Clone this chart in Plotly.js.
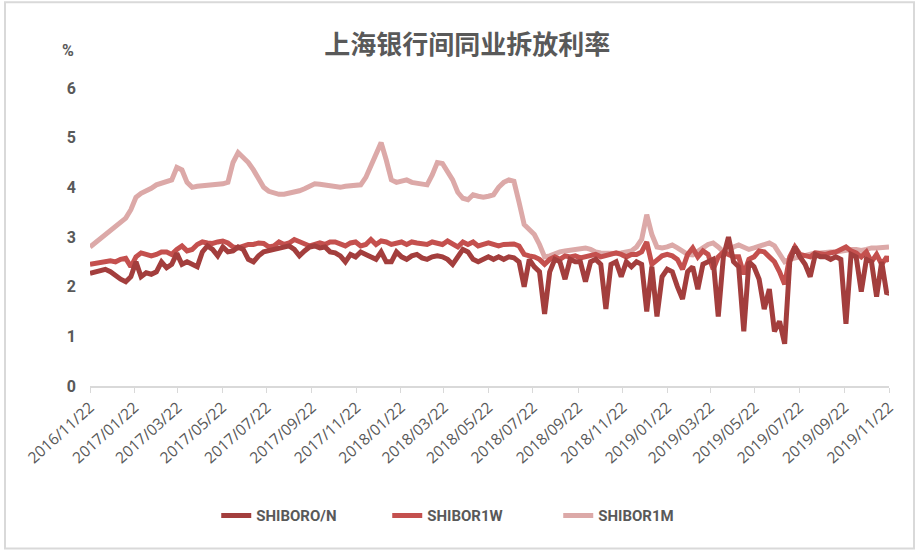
<!DOCTYPE html>
<html>
<head>
<meta charset="utf-8">
<script src="https://cdn.plot.ly/plotly-3.0.1.min.js"></script>
<style>html,body{margin:0;padding:0;background:#fff;}#chart{width:916px;height:551px;}</style>
</head>
<body>
<div id="chart"></div>
<script>
// Weekly observation dates (Tuesdays) plus final date
const dates = [
"2016-11-22","2016-11-29","2016-12-06","2016-12-13","2016-12-20","2016-12-27",
"2017-01-03","2017-01-10","2017-01-17","2017-01-24","2017-01-31",
"2017-02-07","2017-02-14","2017-02-21","2017-02-28",
"2017-03-07","2017-03-14","2017-03-21","2017-03-28",
"2017-04-04","2017-04-11","2017-04-18","2017-04-25",
"2017-05-02","2017-05-09","2017-05-16","2017-05-23","2017-05-30",
"2017-06-06","2017-06-13","2017-06-20","2017-06-27",
"2017-07-04","2017-07-11","2017-07-18","2017-07-25",
"2017-08-01","2017-08-08","2017-08-15","2017-08-22","2017-08-29",
"2017-09-05","2017-09-12","2017-09-19","2017-09-26",
"2017-10-03","2017-10-10","2017-10-17","2017-10-24","2017-10-31",
"2017-11-07","2017-11-14","2017-11-21","2017-11-28",
"2017-12-05","2017-12-12","2017-12-19","2017-12-26",
"2018-01-02","2018-01-09","2018-01-16","2018-01-23","2018-01-30",
"2018-02-06","2018-02-13","2018-02-20","2018-02-27",
"2018-03-06","2018-03-13","2018-03-20","2018-03-27",
"2018-04-03","2018-04-10","2018-04-17","2018-04-24",
"2018-05-01","2018-05-08","2018-05-15","2018-05-22","2018-05-29",
"2018-06-05","2018-06-12","2018-06-19","2018-06-26",
"2018-07-03","2018-07-10","2018-07-17","2018-07-24","2018-07-31",
"2018-08-07","2018-08-14","2018-08-21","2018-08-28",
"2018-09-04","2018-09-11","2018-09-18","2018-09-25",
"2018-10-02","2018-10-09","2018-10-16","2018-10-23","2018-10-30",
"2018-11-06","2018-11-13","2018-11-20","2018-11-27",
"2018-12-04","2018-12-11","2018-12-18","2018-12-25",
"2019-01-01","2019-01-08","2019-01-15","2019-01-22","2019-01-29",
"2019-02-05","2019-02-12","2019-02-19","2019-02-26",
"2019-03-05","2019-03-12","2019-03-19","2019-03-26",
"2019-04-02","2019-04-09","2019-04-16","2019-04-23","2019-04-30",
"2019-05-07","2019-05-14","2019-05-21","2019-05-28",
"2019-06-04","2019-06-11","2019-06-18","2019-06-25",
"2019-07-02","2019-07-09","2019-07-16","2019-07-23","2019-07-30",
"2019-08-06","2019-08-13","2019-08-20","2019-08-27",
"2019-09-03","2019-09-10","2019-09-17","2019-09-24",
"2019-10-01","2019-10-08","2019-10-15","2019-10-22","2019-10-29",
"2019-11-05","2019-11-12","2019-11-19","2019-11-22"
];

const shiborON = [
2.27,2.3,2.32,2.35,2.3,2.22,2.15,2.1,2.2,2.5,
2.2,2.28,2.25,2.3,2.5,2.38,2.45,2.67,2.45,2.5,
2.45,2.4,2.7,2.82,2.75,2.62,2.8,2.7,2.72,2.8,
2.75,2.55,2.5,2.62,2.7,2.72,2.75,2.78,2.8,2.82,
2.75,2.62,2.72,2.8,2.82,2.78,2.8,2.7,2.68,2.62,
2.5,2.65,2.6,2.7,2.65,2.6,2.55,2.7,2.5,2.5,
2.7,2.6,2.55,2.62,2.65,2.58,2.55,2.6,2.62,2.6,
2.55,2.45,2.6,2.75,2.7,2.55,2.5,2.55,2.6,2.55,
2.6,2.55,2.6,2.58,2.5,2.0,2.55,2.4,2.3,1.45,
2.3,2.55,2.5,2.15,2.55,2.5,2.5,2.1,2.5,2.55,
2.45,1.55,2.45,2.5,2.2,2.5,2.4,2.5,2.45,1.5,
2.4,1.4,2.2,2.35,2.3,2.0,1.75,2.3,2.4,1.95,
2.45,2.5,2.55,1.4,2.6,3.0,2.5,2.4,1.1,2.5,
2.4,2.15,1.55,1.95,1.1,1.3,0.85,2.5,2.8,2.6,
2.45,2.2,2.65,2.6,2.6,2.55,2.6,2.55,1.25,2.65,
2.6,1.9,2.55,2.5,1.8,2.5,1.85,1.9
];

const shibor1W = [
2.45,2.47,2.48,2.5,2.52,2.5,2.55,2.57,2.4,2.6,
2.68,2.65,2.62,2.65,2.7,2.7,2.65,2.75,2.82,2.72,
2.75,2.85,2.9,2.88,2.87,2.9,2.92,2.88,2.8,2.78,
2.82,2.85,2.85,2.88,2.87,2.8,2.82,2.9,2.85,2.88,
2.95,2.9,2.85,2.82,2.85,2.88,2.85,2.9,2.9,2.85,
2.82,2.88,2.9,2.82,2.85,2.95,2.85,2.92,2.9,2.85,
2.88,2.9,2.85,2.9,2.88,2.87,2.85,2.9,2.88,2.85,
2.92,2.85,2.8,2.9,2.85,2.9,2.82,2.85,2.88,2.85,
2.82,2.85,2.85,2.86,2.82,2.65,2.62,2.6,2.55,2.45,
2.55,2.6,2.55,2.62,2.6,2.62,2.58,2.6,2.62,2.65,
2.6,2.62,2.65,2.68,2.65,2.6,2.65,2.65,2.7,2.9,
2.45,2.55,2.62,2.65,2.62,2.55,2.35,2.65,2.78,2.6,
2.72,2.65,2.35,2.6,2.7,2.65,2.6,2.6,2.25,2.55,
2.6,2.72,2.7,2.6,2.5,2.3,2.05,2.6,2.8,2.65,
2.62,2.6,2.68,2.66,2.65,2.68,2.7,2.75,2.8,2.72,
2.68,2.6,2.7,2.5,2.65,2.45,2.6,2.5
];

const shibor1M = [
2.8,2.88,2.97,3.05,3.15,3.22,3.3,3.38,3.55,3.8,
3.88,3.92,3.98,4.05,4.08,4.1,4.15,4.4,4.35,4.1,
4.0,4.02,4.03,4.03,4.05,4.05,4.07,4.1,4.5,4.7,
4.6,4.5,4.35,4.15,4.0,3.92,3.88,3.86,3.86,3.88,
3.9,3.93,3.97,4.02,4.07,4.06,4.05,4.03,4.02,4.0,
4.02,4.03,4.04,4.05,4.2,4.45,4.65,4.9,4.55,4.15,
4.1,4.12,4.15,4.1,4.08,4.05,4.05,4.25,4.5,4.48,
4.3,4.15,3.9,3.78,3.75,3.85,3.82,3.8,3.82,3.85,
4.0,4.1,4.15,4.12,3.7,3.25,3.15,3.05,2.85,2.6,
2.62,2.67,2.7,2.72,2.73,2.75,2.77,2.78,2.75,2.7,
2.68,2.67,2.68,2.67,2.68,2.7,2.72,2.8,2.95,3.45,
3.05,2.8,2.78,2.8,2.84,2.78,2.72,2.65,2.64,2.7,
2.78,2.85,2.88,2.8,2.7,2.72,2.8,2.84,2.8,2.75,
2.78,2.82,2.85,2.88,2.82,2.65,2.5,2.55,2.58,2.6,
2.62,2.65,2.68,2.68,2.7,2.7,2.7,2.72,2.75,2.75,
2.75,2.73,2.75,2.78,2.78,2.78,2.8,2.8
];

const seriesNames = ["SHIBORO/N","SHIBOR1W","SHIBOR1M"];
const seriesColors = ["#A33E3D","#C4504E","#DCA9A8"];
const yTicks = [0,1,2,3,4,5,6];

const traces = [shiborON, shibor1W, shibor1M].map((vals, k) => ({
  type: "scatter",
  mode: "lines",
  x: dates,
  y: vals,
  name: seriesNames[k],
  line: {color: seriesColors[k], width: 5, shape: "linear"}
}));
const ordered = [traces[2], traces[1], traces[0]];

const layout = {
  width: 916, height: 551,
  margin: {l: 90, r: 27, t: 88, b: 165},
  paper_bgcolor: "#fff", plot_bgcolor: "#fff",
  showlegend: true,
  title: {
    text: "上海银行间同业拆放利率",
    font: {family: "Noto Sans CJK SC", size: 26, color: "#595959", weight: "bold"},
    x: 0.51, xanchor: "center", y: 0.918, yanchor: "middle"
  },
  xaxis: {
    type: "date",
    range: ["2016-11-22", "2019-11-22"],
    tick0: "2016-11-22", dtick: "M2",
    tickformat: "%Y/%m/%d",
    tickangle: -42,
    showgrid: false, zeroline: false,
    showline: true, linecolor: "#D9D9D9", linewidth: 1.5,
    ticks: "outside", ticklen: 5, tickcolor: "#D9D9D9", tickwidth: 1,
    tickfont: {family: "Open Sans", size: 15.5, color: "#595959"},
    fixedrange: true
  },
  yaxis: {
    range: [0, 6],
    tickvals: yTicks,
    ticktext: yTicks.map(String),
    showgrid: false, zeroline: false, showline: false,
    ticks: "",
    ticklabelstandoff: 13,
    tickfont: {family: "Roboto", size: 16, color: "#595959", weight: "bold"},
    fixedrange: true
  },
  legend: {
    orientation: "h",
    x: 0.158, xanchor: "left",
    y: -0.435, yanchor: "middle",
    font: {family: "Roboto", size: 15, color: "#595959", weight: "bold"},
    traceorder: "reversed",
    entrywidth: 126, entrywidthmode: "pixels",
    bgcolor: "rgba(0,0,0,0)"
  },
  annotations: [{
    text: "%", xref: "paper", yref: "paper",
    x: -0.0275, y: 1.1275, xanchor: "center", yanchor: "middle",
    showarrow: false,
    font: {family: "Roboto", size: 16, color: "#595959", weight: "bold"}
  }],
  shapes: [{
    type: "rect", xref: "paper", yref: "paper",
    x0: -0.1064, x1: 1.0313, y0: -0.545, y1: 1.288,
    line: {color: "#D9D9D9", width: 2}, fillcolor: "rgba(0,0,0,0)", layer: "below"
  }]
};

Plotly.newPlot("chart", ordered, layout, {displayModeBar: false, staticPlot: true});
</script>
</body>
</html>
